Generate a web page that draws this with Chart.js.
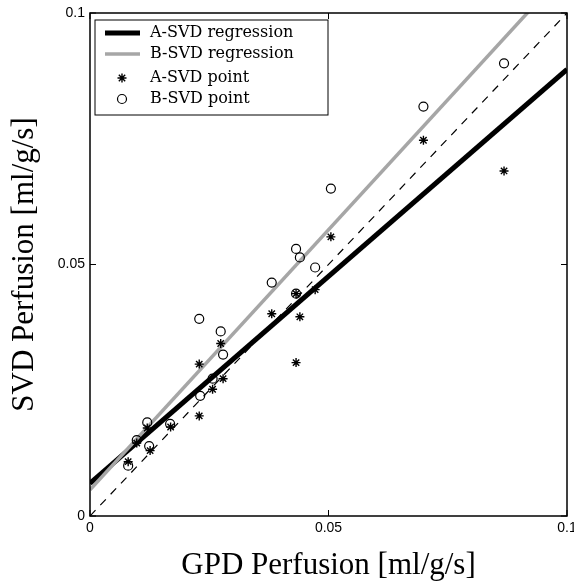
<!DOCTYPE html>
<html>
<head>
<meta charset="utf-8">
<script src="https://cdn.jsdelivr.net/npm/chart.js@4.4.1/dist/chart.umd.min.js"></script>
<style>
  html, body { margin: 0; padding: 0; background: #fff; }
  #wrap { width: 574px; height: 584px; }
</style>
</head>
<body>
<div id="wrap"><canvas id="grafica" width="574" height="584"></canvas></div>
<script>
// GPD (x) vs SVD (y) perfusion, ml/g/s
var gpdA = [0.0080, 0.0098, 0.0120, 0.0126, 0.0169, 0.0229, 0.0229, 0.0257, 0.0274, 0.0279, 0.0381, 0.0432, 0.0440, 0.0432, 0.0472, 0.0505, 0.0699, 0.0868];
var svdA = [0.0108, 0.0145, 0.0175, 0.0130, 0.0177, 0.0302, 0.0199, 0.0252, 0.0343, 0.0273, 0.0402, 0.0442, 0.0396, 0.0305, 0.0450, 0.0555, 0.0747, 0.0686];
var gpdB = [0.0080, 0.0098, 0.0120, 0.0124, 0.0168, 0.0231, 0.0229, 0.0257, 0.0274, 0.0279, 0.0381, 0.0432, 0.0440, 0.0432, 0.0472, 0.0505, 0.0699, 0.0868];
var svdB = [0.0100, 0.0151, 0.0186, 0.0139, 0.0183, 0.0239, 0.0392, 0.0273, 0.0367, 0.0321, 0.0464, 0.0531, 0.0514, 0.0442, 0.0494, 0.0651, 0.0814, 0.0900];

// regression lines and identity line, end points at x = 0 and x = 0.1
var regX = [0, 0.1];
var regA = [0.0065, 0.0888];
var regB = [0.0052, 0.1086];
var identidad = [0, 0.1];

var xTicks = [0, 0.05, 0.1];
var xTickLabels = ['0', '0.05', '0.1'];
var yTicks = [0, 0.05, 0.1];
var yTickLabels = ['0', '0.05', '0.1'];

function puntos(xs, ys) {
  var out = [];
  for (var i = 0; i < xs.length; i++) out.push({ x: xs[i], y: ys[i] });
  return out;
}

// marco tipo MATLAB con ticks hacia adentro + leyenda dentro del area
var marcoPlugin = {
  id: 'marco',
  afterDraw: function (chart) {
    var ctx = chart.ctx;
    var a = chart.chartArea;
    var xs = chart.scales.x, ys = chart.scales.y;
    ctx.save();
    ctx.strokeStyle = '#000';
    ctx.lineWidth = 1.5;
    ctx.strokeRect(a.left, a.top, a.right - a.left, a.bottom - a.top);
    ctx.lineWidth = 1;
    var t = 6;
    xTicks.forEach(function (v) {
      var px = xs.getPixelForValue(v);
      ctx.beginPath();
      ctx.moveTo(px, a.bottom); ctx.lineTo(px, a.bottom - t);
      ctx.moveTo(px, a.top); ctx.lineTo(px, a.top + t);
      ctx.stroke();
    });
    yTicks.forEach(function (v) {
      var py = ys.getPixelForValue(v);
      ctx.beginPath();
      ctx.moveTo(a.left, py); ctx.lineTo(a.left + t, py);
      ctx.moveTo(a.right, py); ctx.lineTo(a.right - t, py);
      ctx.stroke();
    });

    // leyenda
    var bx = a.left + 5, by = a.top + 7, bw = 233, bh = 95;
    ctx.fillStyle = '#fff';
    ctx.fillRect(bx, by, bw, bh);
    ctx.strokeStyle = '#000';
    ctx.lineWidth = 1;
    ctx.strokeRect(bx, by, bw, bh);
    var filas = [by + 13, by + 34, by + 58, by + 79];
    var orden = [2, 3, 0, 1];
    ctx.font = '16px "DejaVu Serif"';
    ctx.textBaseline = 'middle';
    orden.forEach(function (di, k) {
      var ds = chart.data.datasets[di];
      var y = filas[k];
      if (ds.showLine) {
        ctx.strokeStyle = ds.borderColor;
        ctx.lineWidth = ds.borderWidth;
        ctx.beginPath();
        ctx.moveTo(bx + 10, y); ctx.lineTo(bx + 45, y);
        ctx.stroke();
      } else {
        ctx.fillStyle = 'rgba(0,0,0,0)';
        ctx.strokeStyle = '#000';
        ctx.lineWidth = ds.borderWidth;
        Chart.helpers.drawPoint(ctx, {
          pointStyle: ds.pointStyle, radius: ds.pointRadius, borderWidth: ds.borderWidth
        }, bx + 27, y);
      }
      ctx.fillStyle = '#000';
      ctx.fillText(ds.label, bx + 55, y);
    });
    ctx.restore();
  }
};

var ctx = document.getElementById('grafica').getContext('2d');
var grafica = new Chart(ctx, {
  type: 'scatter',
  data: {
    datasets: [
      {
        label: 'A-SVD point',
        data: puntos(gpdA, svdA),
        pointStyle: 'star',
        pointRadius: 4.5,
        borderColor: '#000',
        backgroundColor: 'rgba(0,0,0,0)',
        borderWidth: 1.4,
        showLine: false,
        order: 1
      },
      {
        label: 'B-SVD point',
        data: puntos(gpdB, svdB),
        pointStyle: 'circle',
        pointRadius: 4.5,
        borderColor: '#000',
        backgroundColor: 'rgba(0,0,0,0)',
        borderWidth: 1.2,
        showLine: false,
        order: 2
      },
      {
        label: 'A-SVD regression',
        data: puntos(regX, regA),
        showLine: true,
        borderColor: '#000',
        borderWidth: 5,
        pointRadius: 0,
        order: 4
      },
      {
        label: 'B-SVD regression',
        data: puntos(regX, regB),
        showLine: true,
        borderColor: '#a6a6a6',
        borderWidth: 3.5,
        pointRadius: 0,
        order: 3
      },
      {
        label: 'identidad',
        data: puntos(regX, identidad),
        showLine: true,
        borderColor: '#000',
        borderWidth: 1.2,
        borderDash: [8, 7],
        pointRadius: 0,
        order: 5
      }
    ]
  },
  options: {
    responsive: false,
    animation: false,
    devicePixelRatio: 1,
    layout: { padding: { left: 0, top: 13, right: 7, bottom: 0 } },
    plugins: {
      legend: { display: false },
      tooltip: { enabled: false }
    },
    scales: {
      x: {
        type: 'linear',
        min: 0, max: 0.1,
        afterBuildTicks: function (s) { s.ticks = xTicks.map(function (v) { return { value: v }; }); },
        afterFit: function (s) { s.height = 68; s.paddingLeft = 0; s.paddingRight = 0; },
        grid: { display: false, drawTicks: false },
        border: { display: false },
        ticks: {
          padding: 4,
          color: '#000',
          font: { family: '"Liberation Sans"', size: 14 },
          maxRotation: 0,
          callback: function (v, i) { return xTickLabels[i]; }
        },
        title: {
          display: true,
          text: 'GPD Perfusion [ml/g/s]',
          color: '#000',
          font: { family: '"Liberation Serif"', size: 31 },
          padding: { top: 0, bottom: 0 }
        }
      },
      y: {
        type: 'linear',
        min: 0, max: 0.1,
        afterBuildTicks: function (s) { s.ticks = yTicks.map(function (v) { return { value: v }; }); },
        afterFit: function (s) { s.width = 90; s.paddingTop = 0; s.paddingBottom = 0; },
        grid: { display: false, drawTicks: false },
        border: { display: false },
        ticks: {
          padding: 5,
          color: '#000',
          font: { family: '"Liberation Sans"', size: 14 },
          callback: function (v, i) { return yTickLabels[i]; }
        },
        title: {
          display: true,
          text: 'SVD Perfusion [ml/g/s]',
          color: '#000',
          font: { family: '"Liberation Serif"', size: 31 },
          padding: { top: 6, bottom: 0 }
        }
      }
    }
  },
  plugins: [marcoPlugin]
});
</script>
</body>
</html>
